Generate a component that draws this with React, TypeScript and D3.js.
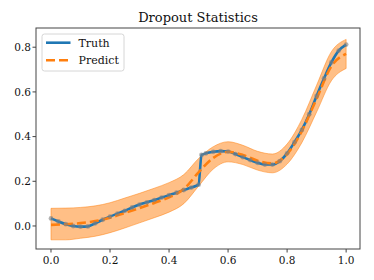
import React from 'react';
import * as d3 from 'd3';

const truthX = [0, 0.025, 0.05, 0.075, 0.1, 0.125, 0.15, 0.175, 0.2, 0.225, 0.25, 0.275, 0.3, 0.325, 0.35, 0.375, 0.4, 0.425, 0.45, 0.475, 0.5, 0.51, 0.525, 0.55, 0.575, 0.6, 0.625, 0.65, 0.675, 0.7, 0.725, 0.75, 0.775, 0.8, 0.825, 0.85, 0.875, 0.9, 0.925, 0.95, 0.975, 1.0];
const truthY = [0.034, 0.02, 0.008, 0.0, -0.003, -0.002, 0.012, 0.028, 0.042, 0.055, 0.068, 0.083, 0.096, 0.106, 0.116, 0.127, 0.138, 0.149, 0.161, 0.172, 0.185, 0.318, 0.325, 0.332, 0.335, 0.333, 0.322, 0.308, 0.295, 0.283, 0.275, 0.275, 0.29, 0.325, 0.375, 0.43, 0.5, 0.582, 0.66, 0.732, 0.785, 0.812];

const predX = [0, 0.05, 0.1, 0.15, 0.2, 0.25, 0.3, 0.35, 0.4, 0.45, 0.5, 0.55, 0.6, 0.65, 0.7, 0.75, 0.8, 0.85, 0.9, 0.95, 1.0];
const predY = [0.005, 0.008, 0.013, 0.022, 0.037, 0.058, 0.08, 0.103, 0.128, 0.165, 0.24, 0.305, 0.332, 0.318, 0.292, 0.28, 0.322, 0.425, 0.57, 0.715, 0.77];
const upper = [0.079, 0.08, 0.083, 0.09, 0.104, 0.125, 0.146, 0.169, 0.194, 0.23, 0.302, 0.355, 0.377, 0.361, 0.334, 0.322, 0.367, 0.477, 0.63, 0.78, 0.835];
const lower = [-0.062, -0.062, -0.055, -0.046, -0.03, -0.009, 0.014, 0.037, 0.062, 0.1, 0.178, 0.255, 0.287, 0.275, 0.25, 0.238, 0.277, 0.373, 0.51, 0.65, 0.705];

const xTicks = [0, 0.2, 0.4, 0.6, 0.8, 1.0];
const yTicks = [0, 0.2, 0.4, 0.6, 0.8];
const seriesNames = ['Truth', 'Predict'];

const W = 374, H = 280;
const left = 36, right = 360, top = 28, bottom = 249;
const font = 'DejaVu Serif, serif';

const App = () => {
  const x = d3.scaleLinear().domain([-0.0508, 1.047]).range([left, right]);
  const y = d3.scaleLinear().domain([-0.103, 0.886]).range([bottom, top]);

  const truthPts: [number, number][] = truthX.map((v, i) => [v, truthY[i]]);
  const predPts: [number, number][] = predX.map((v, i) => [v, predY[i]]);

  const line = d3.line<[number, number]>()
    .x(d => x(d[0]))
    .y(d => y(d[1]))
    .curve(d3.curveMonotoneX);

  const band = d3.area<number>()
    .x((d, i) => x(predX[i]))
    .y0((d, i) => y(lower[i]))
    .y1((d, i) => y(upper[i]))
    .curve(d3.curveMonotoneX);

  return (
    <div style={{ position: 'absolute', left: 0, top: 0 }}>
      <svg width={W} height={H} style={{ display: 'block', fontFamily: font }}>
        <rect width={W} height={H} fill="white" />
        <text x={(left + right) / 2} y={22} textAnchor="middle" fontSize={13} fill="#111">Dropout Statistics</text>

        <path d={band(predX) || ''} fill="#ff7f0e" fillOpacity={0.5} stroke="#ff7f0e" strokeOpacity={0.5} strokeWidth={1} />
        <path d={line(truthPts) || ''} fill="none" stroke="#1f77b4" strokeWidth={2.6} />
        <path d={line(predPts) || ''} fill="none" stroke="#ff7f0e" strokeWidth={2.6} strokeDasharray="9,4" />
        {truthPts.map((d, i) => (
          <circle key={i} cx={x(d[0])} cy={y(d[1])} r={2.4} fill="#7f7f7f" fillOpacity={0.6} />
        ))}

        <rect x={left} y={top} width={right - left} height={bottom - top} fill="none" stroke="#444" strokeWidth={1} />

        {xTicks.map(t => (
          <g key={t}>
            <line x1={x(t)} x2={x(t)} y1={bottom} y2={bottom + 3.5} stroke="#444" />
            <text x={x(t)} y={263.5} textAnchor="middle" fontSize={10.5} fill="#111">{t.toFixed(1)}</text>
          </g>
        ))}
        {yTicks.map(t => (
          <g key={t}>
            <line x1={left - 3.5} x2={left} y1={y(t)} y2={y(t)} stroke="#444" />
            <text x={31} y={y(t) + 3.8} textAnchor="end" fontSize={10.5} fill="#111">{t.toFixed(1)}</text>
          </g>
        ))}

        <g>
          <rect x={42} y={34} width={82} height={37} rx={2.5} fill="white" fillOpacity={0.8} stroke="#ccc" strokeWidth={0.8} />
          <line x1={46} x2={70.5} y1={42.7} y2={42.7} stroke="#1f77b4" strokeWidth={2.6} />
          <line x1={46} x2={70.5} y1={60.3} y2={60.3} stroke="#ff7f0e" strokeWidth={2.6} strokeDasharray="9,4" />
          <text x={78.5} y={46.8} fontSize={11} fill="#111">{seriesNames[0]}</text>
          <text x={78.5} y={64.4} fontSize={11} fill="#111">{seriesNames[1]}</text>
        </g>
      </svg>
    </div>
  );
};

export default App;
